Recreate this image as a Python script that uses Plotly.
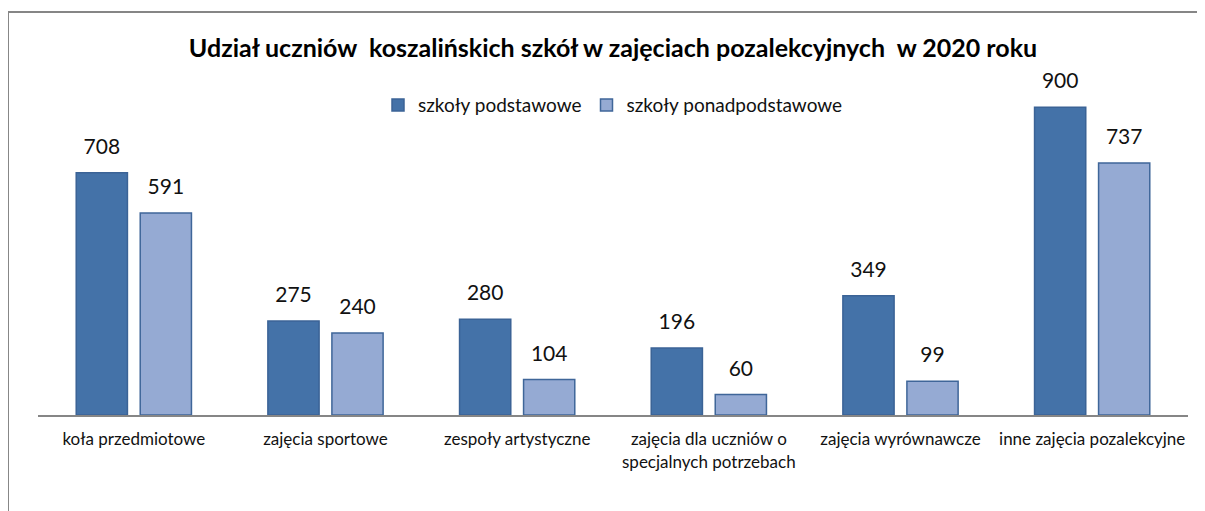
import plotly.graph_objects as go

# dane
kategorie = [
    "koła przedmiotowe",
    "zajęcia sportowe",
    "zespoły artystyczne",
    "zajęcia dla uczniów o<br>specjalnych potrzebach",
    "zajęcia wyrównawcze",
    "inne zajęcia pozalekcyjne",
]
podstawowe = [708, 275, 280, 196, 349, 900]
ponadpodstawowe = [591, 240, 104, 60, 99, 737]

tytul = "Udział uczniów  koszalińskich szkół w zajęciach pozalekcyjnych  w 2020 roku"
font = "Lato"

fig = go.Figure()

series = [
    ("szkoły podstawowe", podstawowe, "#4472A8", "#3B6396", "a"),
    ("szkoły ponadpodstawowe", ponadpodstawowe, "#95AAD3", "#3F6699", "b"),
]

for name, vals, fill, edge, grp in series:
    fig.add_trace(go.Bar(
        x=kategorie, y=vals, name=name, offsetgroup=grp,
        marker=dict(color=fill, line=dict(color=edge, width=1.5)),
        hoverinfo="x+y",
    ))

# etykiety wartosci nad slupkami
for name, vals, fill, edge, grp in series:
    fig.add_trace(go.Scatter(
        x=kategorie, y=vals, offsetgroup=grp, mode="markers+text",
        text=[str(v) for v in vals], textposition="top center",
        textfont=dict(family=font, size=21, color="#111111"),
        marker=dict(size=20, color="rgba(0,0,0,0)"),
        showlegend=False, hoverinfo="skip", cliponaxis=False,
    ))

# ramka wykresu
fig.add_shape(type="rect", xref="paper", yref="paper",
              x0=-0.0261, x1=1.05, y0=-0.6, y1=1.178,
              line=dict(color="#868686", width=2), fillcolor="rgba(0,0,0,0)")

fig.update_layout(
    width=1205, height=511,
    margin=dict(l=30, r=25, t=65, b=104),
    paper_bgcolor="white", plot_bgcolor="white",
    barmode="group", scattermode="group",
    bargap=0.332, bargroupgap=0.2,
    font=dict(family=font, color="#111111"),
    title=dict(text="<b>" + tytul + "</b>", x=0.5, xref="paper", xanchor="center",
               y=1 - 40 / 511, yref="container", yanchor="middle",
               font=dict(family=font, size=25, color="#000000")),
    legend=dict(orientation="h", x=0.5, xanchor="center", y=0.906, yanchor="middle",
                font=dict(family=font, size=19, color="#111111"),
                itemwidth=30, traceorder="normal"),
    xaxis=dict(showline=True, linecolor="#868686", linewidth=2, ticks="",
               tickfont=dict(family=font, size=17, color="#111111"),
               ticklabelstandoff=8),
    yaxis=dict(range=[0, 1000], visible=False, showgrid=False),
    showlegend=True,
)

fig.write_html("out.html")
